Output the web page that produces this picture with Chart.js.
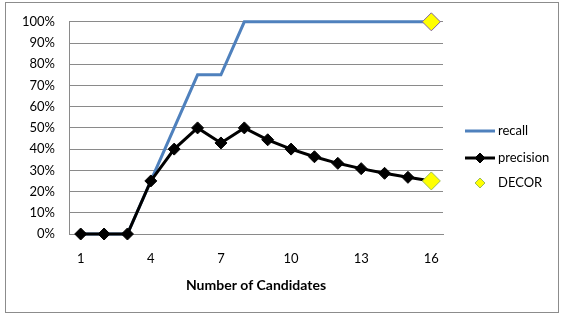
<!DOCTYPE html>
<html>
<head>
<meta charset="utf-8">
<script src="https://cdn.jsdelivr.net/npm/chart.js@4/dist/chart.umd.min.js"></script>
<style>
  html, body { margin: 0; padding: 0; background: #fff; }
  #wrap { position: relative; width: 563px; height: 316px; }
</style>
</head>
<body>
<div id="wrap"><canvas id="mychart" width="563" height="316"></canvas></div>
<script>
const categories = ['1','2','3','4','5','6','7','8','9','10','11','12','13','14','15','16'];
const recallValues = [0, 0, 0, 25, 50, 75, 75, 100, 100, 100, 100, 100, 100, 100, 100, 100];
const precisionValues = [0, 0, 0, 25, 40, 50, 42.9, 50, 44.4, 40, 36.4, 33.3, 30.8, 28.6, 26.7, 25];
const decorCategory = '16';
const decorValues = [100, 25];
const shownTicks = ['1','4','7','10','13','16'];

const FONT = 'Lato, "Open Sans", sans-serif';

// border round the whole chart + hand drawn legend (line with marker)
const frame = {
  id: 'frame',
  beforeDraw(chart) {
    const ctx = chart.ctx;
    ctx.save();
    ctx.strokeStyle = '#8c8c8c';
    ctx.lineWidth = 1;
    ctx.strokeRect(5.5, 2.5, 553, 310);
    ctx.restore();
  },
  afterDraw(chart) {
    const ctx = chart.ctx;
    const x0 = 465, x1 = 495, tx = 498;
    ctx.save();
    ctx.font = '13px ' + FONT;
    ctx.textBaseline = 'middle';
    ctx.fillStyle = '#000';
    // recall
    ctx.strokeStyle = '#4F81BD';
    ctx.lineWidth = 3;
    ctx.beginPath(); ctx.moveTo(x0, 131); ctx.lineTo(x1, 131); ctx.stroke();
    ctx.fillText('recall', tx, 131);
    // precision
    ctx.strokeStyle = '#000';
    ctx.beginPath(); ctx.moveTo(x0, 158); ctx.lineTo(x1, 158); ctx.stroke();
    diamond(ctx, 480, 158, 5, '#000', '#000');
    ctx.fillText('precision', tx, 158);
    // DECOR
    diamond(ctx, 480, 183, 5, '#FFFF00', '#9BBB59');
    ctx.fillStyle = '#000';
    ctx.fillText('DECOR', tx, 183);
    ctx.restore();
  }
};

function diamond(ctx, x, y, r, fill, stroke) {
  ctx.beginPath();
  ctx.moveTo(x, y - r); ctx.lineTo(x + r, y); ctx.lineTo(x, y + r); ctx.lineTo(x - r, y);
  ctx.closePath();
  ctx.fillStyle = fill; ctx.fill();
  ctx.strokeStyle = stroke; ctx.lineWidth = 1; ctx.stroke();
}

const data = {
  labels: categories,
  datasets: [{
    label: 'recall',
    data: recallValues,
    borderColor: '#4F81BD',
    borderWidth: 3,
    pointRadius: 0,
    tension: 0,
    clip: false,
    order: 3
  }, {
    label: 'precision',
    data: precisionValues,
    borderColor: '#000',
    backgroundColor: '#000',
    borderWidth: 3,
    pointStyle: 'rectRot',
    pointRadius: 6,
    pointBorderWidth: 1,
    tension: 0,
    clip: false,
    order: 2
  }, {
    label: 'DECOR',
    data: decorValues.map(v => ({x: decorCategory, y: v})),
    showLine: false,
    pointStyle: 'rectRot',
    pointRadius: 9,
    backgroundColor: '#FFFF00',
    borderColor: ['#8064A2', '#9BBB59'],
    pointBorderWidth: 1,
    clip: false,
    order: 1
  }]
};

const config = {
  type: 'line',
  data: data,
  options: {
    responsive: false,
    animation: false,
    layout: { padding: { left: 0, top: 19, right: 120, bottom: 0 } },
    plugins: { legend: { display: false }, tooltip: { enabled: false } },
    scales: {
      x: {
        type: 'category',
        offset: true,
        grid: { display: false, drawTicks: false },
        border: { display: true, color: '#8a8a8a', width: 1 },
        ticks: {
          autoSkip: false,
          maxRotation: 0,
          padding: 17,
          color: '#000',
          font: { family: FONT, size: 13 },
          callback: function (v) {
            const l = this.getLabelForValue(v);
            return shownTicks.includes(l) ? l : '';
          }
        },
        title: {
          display: true,
          text: 'Number of Candidates',
          color: '#000',
          font: { family: FONT, size: 14, weight: 'bold' },
          padding: { top: 0, bottom: 22 }
        },
        afterFit: s => { s.height = 82; }
      },
      y: {
        min: 0,
        max: 100,
        ticks: {
          stepSize: 10,
          padding: 14,
          color: '#000',
          font: { family: FONT, size: 13 },
          callback: v => v + '%'
        },
        grid: { color: '#8a8a8a', drawTicks: false },
        border: { display: true, color: '#8a8a8a' },
        afterFit: s => { s.width = 69; }
      }
    }
  },
  plugins: [frame]
};

const lineChart = new Chart(document.querySelector('#mychart'), config);
</script>
</body>
</html>
